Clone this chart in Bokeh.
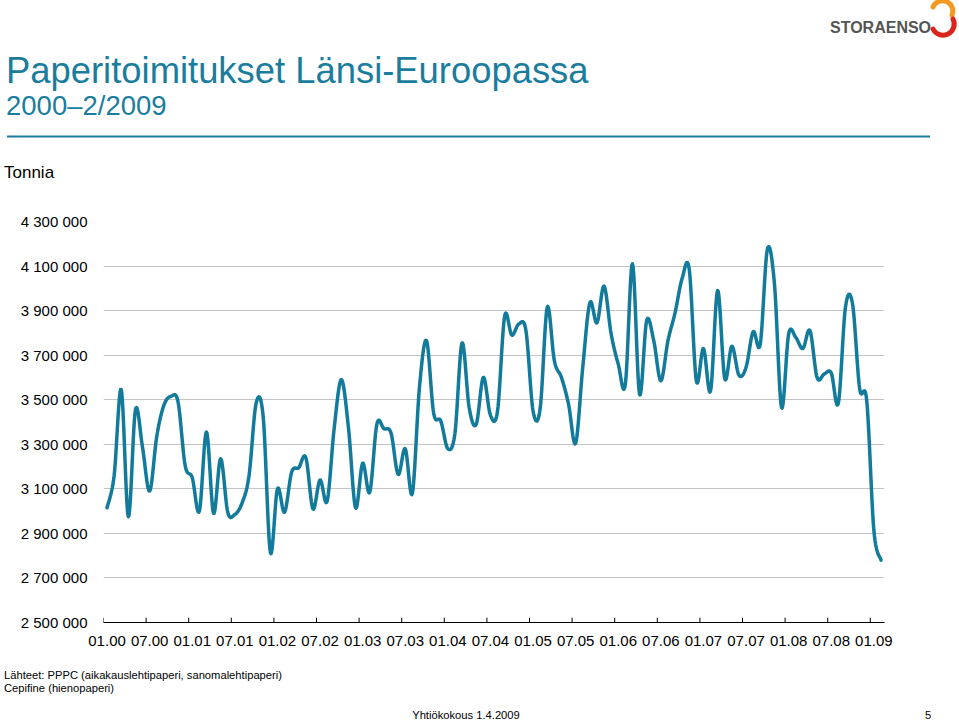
import numpy as np
from html import escape
from bokeh.plotting import figure
from bokeh.models import FixedTicker, Div
from bokeh.layouts import column
from bokeh.embed import file_html
from bokeh.resources import INLINE

# Monthly paper deliveries in Western Europe, 01/2000 - 02/2009 (tonnes)
deliveries = [
    3015000, 3160000, 3545000, 2975000, 3455000, 3285000, 3090000, 3335000, 3475000, 3515000, 3490000, 3205000,
    3150000, 3000000, 3355000, 2990000, 3235000, 2995000, 2985000, 3035000, 3160000, 3485000, 3420000, 2815000,
    3100000, 2995000, 3175000, 3195000, 3240000, 3010000, 3140000, 3045000, 3375000, 3590000, 3375000, 3015000,
    3215000, 3085000, 3390000, 3370000, 3350000, 3165000, 3280000, 3080000, 3555000, 3765000, 3440000, 3405000,
    3280000, 3350000, 3755000, 3465000, 3390000, 3600000, 3430000, 3450000, 3875000, 3790000, 3840000, 3810000,
    3450000, 3460000, 3915000, 3675000, 3600000, 3480000, 3305000, 3645000, 3935000, 3845000, 4010000, 3795000,
    3660000, 3570000, 4110000, 3525000, 3855000, 3765000, 3585000, 3765000, 3890000, 4045000, 4085000, 3585000,
    3730000, 3540000, 3990000, 3595000, 3740000, 3610000, 3645000, 3805000, 3750000, 4175000, 4020000, 3465000,
    3795000, 3780000, 3730000, 3810000, 3600000, 3615000, 3620000, 3485000, 3915000, 3930000, 3550000, 3495000,
    2915000, 2780000,
]

x_tick_labels = ["01.00", "07.00", "01.01", "07.01", "01.02", "07.02", "01.03", "07.03", "01.04", "07.04",
                 "01.05", "07.05", "01.06", "07.06", "01.07", "07.07", "01.08", "07.08", "01.09"]

y_ticks = [2500000, 2700000, 2900000, 3100000, 3300000, 3500000, 3700000, 3900000, 4100000, 4300000]
y_tick_labels = ["2 500 000", "2 700 000", "2 900 000", "3 100 000", "3 300 000",
                 "3 500 000", "3 700 000", "3 900 000", "4 100 000", "4 300 000"]

title_text = "Paperitoimitukset Länsi-Euroopassa"
subtitle_text = "2000\u20132/2009"
unit_text = "Tonnia"
logo_text = "STORAENSO"
source_lines = ["Lähteet: PPPC (aikakauslehtipaperi, sanomalehtipaperi)", "Cepifine (hienopaperi)"]
footer_text = "Yhtiökokous 1.4.2009"
page_no = "5"

LINE = "#127a9b"
TEAL = "#1a7d9e"
FONT = "Liberation Sans"
W = 959


def svg_text(x, y, s, size, color="#000000", anchor="start", weight="normal"):
    return (f'<text x="{x}" y="{y}" font-family="{FONT}" font-size="{size}" fill="{color}" '
            f'text-anchor="{anchor}" font-weight="{weight}">{escape(s)}</text>')


# ---------------- header (title block) ----------------
head_svg = (
    f'<svg xmlns="http://www.w3.org/2000/svg" width="{W}" height="200" style="display:block">'
    + svg_text(6, 83, title_text, 36.4, TEAL)
    + svg_text(6, 115, subtitle_text, 27.5, TEAL)
    + f'<line x1="7" y1="136.5" x2="930" y2="136.5" stroke="{TEAL}" stroke-width="2"/>'
    + svg_text(4, 178, unit_text, 17)
    + svg_text(830, 33, logo_text, 16, "#555555", weight="bold")
    + '<path d="M 933 7 A 9.5 9.5 0 0 1 952 15" fill="none" stroke="#f29a1f" stroke-width="5" stroke-linecap="round"/>'
    + '<path d="M 953 19 A 10 10 0 0 1 933 29" fill="none" stroke="#d9251c" stroke-width="5" stroke-linecap="round"/>'
    + '</svg>'
)
head = Div(text=head_svg, width=W, height=200, styles={"overflow": "hidden", "margin": "0", "padding": "0"})

# ---------------- chart ----------------
n = len(deliveries)
xc = np.arange(n) + 0.5          # category centres
yv = np.array(deliveries, dtype=float)

# smoothed line (Catmull-Rom / Bezier, like a spreadsheet "smoothed line")
P = np.column_stack([xc, yv])
Pp = np.vstack([P[0], P, P[-1]])
xs, ys = [], []
t = np.linspace(0, 1, 14)[:, None]
for i in range(n - 1):
    p0, p1, p2, p3 = Pp[i], Pp[i + 1], Pp[i + 2], Pp[i + 3]
    c1 = p1 + (p2 - p0) / 6.0
    c2 = p2 - (p3 - p1) / 6.0
    seg = ((1 - t) ** 3) * p1 + 3 * ((1 - t) ** 2) * t * c1 + 3 * (1 - t) * t ** 2 * c2 + t ** 3 * p2
    if i > 0:
        seg = seg[1:]
    xs.extend(seg[:, 0]); ys.extend(seg[:, 1])

p = figure(width=W, height=460, x_range=(0, n), y_range=(y_ticks[0], y_ticks[-1]),
           output_backend="svg", toolbar_location=None,
           min_border_left=103, min_border_right=75, min_border_top=21, min_border_bottom=38)
p.outline_line_color = None
p.background_fill_color = "white"
p.border_fill_color = "white"

yax = p.yaxis[0]
yax.ticker = FixedTicker(ticks=y_ticks)
yax.major_label_overrides = {v: s for v, s in zip(y_ticks, y_tick_labels)}
yax.axis_line_color = None
yax.major_tick_line_color = None
yax.minor_tick_line_color = None
yax.major_label_standoff = 10
yax.major_label_text_font = FONT
yax.major_label_text_font_size = "15px"
yax.major_label_text_color = "black"

p.ygrid.ticker = FixedTicker(ticks=y_ticks)
p.ygrid.grid_line_color = "#c4c4c4"
p.ygrid.grid_line_width = 1
p.xgrid.visible = False

# x axis: labels at category centres
label_pos = [i + 0.5 for i in range(0, n - 1, 6)]
xa = p.xaxis[0]
xa.ticker = FixedTicker(ticks=label_pos)
xa.major_label_overrides = {v: s for v, s in zip(label_pos, x_tick_labels)}
xa.axis_line_color = "black"
xa.major_tick_line_color = None
xa.minor_tick_line_color = None
xa.major_label_standoff = 7
xa.major_label_text_font = FONT
xa.major_label_text_font_size = "15px"
xa.major_label_text_color = "black"

# tick marks (pointing in) at the category boundaries every six months
bounds = list(range(0, n - 1, 6))
tick_len = (y_ticks[-1] - y_ticks[0]) * 0.012
p.segment(x0=bounds, x1=bounds, y0=[y_ticks[0]] * len(bounds),
          y1=[y_ticks[0] + tick_len] * len(bounds), line_color="black", line_width=1)

p.line(xs, ys, line_width=3.5, line_color=LINE, line_join="round", line_cap="round")

# ---------------- footer ----------------
foot_svg = (
    f'<svg xmlns="http://www.w3.org/2000/svg" width="{W}" height="61" style="display:block">'
    + svg_text(4, 19, source_lines[0], 11.2)
    + svg_text(4, 32, source_lines[1], 11.2)
    + svg_text(466, 59, footer_text, 11.2, anchor="middle")
    + svg_text(928, 59, page_no, 11.2, anchor="middle")
    + '</svg>'
)
foot = Div(text=foot_svg, width=W, height=61, styles={"overflow": "hidden", "margin": "0", "padding": "0"})

layout = column(head, p, foot, spacing=0)
with open("out.html", "w", encoding="utf-8") as fh:
    fh.write(file_html(layout, INLINE))
